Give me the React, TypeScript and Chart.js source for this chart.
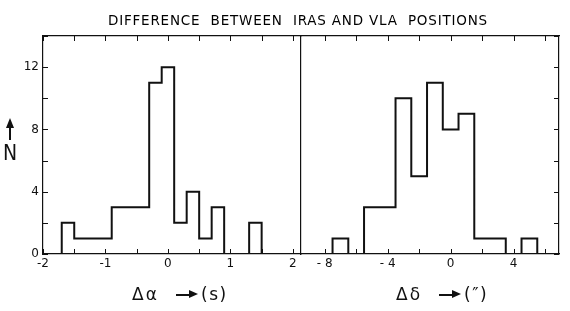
import React, { useEffect, useRef } from "react";
import { Chart, registerables } from "chart.js";

Chart.register(...registerables);

// ---- data ----
const TITLE = "DIFFERENCE  BETWEEN  IRAS AND VLA  POSITIONS";

// Right ascension difference (s): bin edges and counts
const raBinEdges = [-1.7, -1.5, -1.3, -1.1, -0.9, -0.7, -0.5, -0.3, -0.1, 0.1, 0.3, 0.5, 0.7, 0.9, 1.1, 1.3, 1.5];
const raCounts = [2, 1, 1, 1, 3, 3, 3, 11, 12, 2, 4, 1, 3, 0, 0, 2];

// Declination difference ("): bin edges and counts
const decBinEdges = [-7.5, -6.5, -5.5, -4.5, -3.5, -2.5, -1.5, -0.5, 0.5, 1.5, 2.5, 3.5, 4.5, 5.5];
const decCounts = [1, 0, 3, 3, 10, 5, 11, 8, 9, 1, 1, 0, 1];

// tick labels
const raLabelTicks = [-2, -1, 0, 1, 2];
const raLabelTexts = ["-2", "-1", "0", "1", "2"];
const decLabelTicks = [-8, -4, 0, 4];
const decLabelTexts = ["- 8", "- 4", "0", "4"];
const nLabelTicks = [0, 4, 8, 12];
const nLabelTexts = ["0", "4", "8", "12"];

const RA_RANGE = [-2, 2.13];
const DEC_RANGE = [-9.44, 6.88];
const N_RANGE = [0, 14];

const FONT = "'DejaVu Sans', 'Liberation Sans', sans-serif";
const INK = "#111111";

function histPoints(edges: number[], counts: number[]) {
  const pts: { x: number; y: number }[] = [{ x: edges[0], y: 0 }];
  counts.forEach((c, i) => pts.push({ x: edges[i], y: c }));
  pts.push({ x: edges[edges.length - 1], y: 0 });
  return pts;
}

function labelFrom(values: number[], texts: string[]) {
  return (v: any) => {
    const i = values.findIndex((t) => Math.abs(t - Number(v)) < 1e-6);
    return i >= 0 ? texts[i] : "";
  };
}

// draws the short tick marks pointing into the plot frame
const innerTickPlugin = {
  id: "innerTicks",
  afterDraw(chart: any, _args: any, opts: any) {
    const { ctx, chartArea: a } = chart;
    const len = opts.length || 5;
    const ids: string[] = opts.scales || [];
    ctx.save();
    ctx.strokeStyle = INK;
    ctx.lineWidth = 1;
    ids.forEach((id) => {
      const s = chart.scales[id];
      if (!s) return;
      s.ticks.forEach((t: any) => {
        const p = Math.round(s.getPixelForValue(t.value)) + 0.5;
        ctx.beginPath();
        if (s.position === "bottom") {
          ctx.moveTo(p, a.bottom);
          ctx.lineTo(p, a.bottom - len);
        } else if (s.position === "top") {
          ctx.moveTo(p, a.top);
          ctx.lineTo(p, a.top + len);
        } else if (s.position === "left") {
          ctx.moveTo(a.left, p);
          ctx.lineTo(a.left + len, p);
        } else {
          ctx.moveTo(a.right, p);
          ctx.lineTo(a.right - len, p);
        }
        ctx.stroke();
      });
    });
    ctx.restore();
  },
};

const tickFont = { family: FONT, size: 12 };
const noGrid = { display: false, drawTicks: false };
const frame = { display: true, color: INK, width: 1.2 };

function histDataset(edges: number[], counts: number[]) {
  return {
    data: histPoints(edges, counts),
    stepped: true,
    borderColor: INK,
    borderWidth: 2,
    pointRadius: 0,
    fill: false,
    xAxisID: "x",
    yAxisID: "y",
  };
}

function basePlugins(scaleIds: string[]) {
  return {
    legend: { display: false },
    tooltip: { enabled: false },
    title: { display: false },
    innerTicks: { length: 5, scales: scaleIds },
  };
}

function xAxis(range: number[], step: number, labels: number[], texts: string[]) {
  return {
    type: "linear",
    position: "bottom",
    min: range[0],
    max: range[1],
    grid: noGrid,
    border: frame,
    ticks: {
      stepSize: step,
      includeBounds: false,
      autoSkip: false,
      maxRotation: 0,
      minRotation: 0,
      padding: 3,
      font: tickFont,
      color: INK,
      callback: labelFrom(labels, texts),
    },
    afterFit: (s: any) => {
      s.height = 57;
    },
  };
}

function xTopAxis(range: number[], step: number) {
  return {
    type: "linear",
    position: "top",
    min: range[0],
    max: range[1],
    grid: noGrid,
    border: frame,
    ticks: { stepSize: step, includeBounds: false, autoSkip: false, maxRotation: 0, callback: () => "" },
    afterFit: (s: any) => {
      s.height = 36;
    },
  };
}

function leftConfig(): any {
  return {
    type: "line",
    data: { datasets: [histDataset(raBinEdges, raCounts)] },
    plugins: [innerTickPlugin],
    options: {
      responsive: false,
      animation: false,
      events: [],
      layout: { padding: 0 },
      plugins: basePlugins(["x", "xTop", "y"]),
      scales: {
        x: xAxis(RA_RANGE, 0.5, raLabelTicks, raLabelTexts),
        xTop: xTopAxis(RA_RANGE, 0.5),
        y: {
          type: "linear",
          position: "left",
          min: N_RANGE[0],
          max: N_RANGE[1],
          grid: noGrid,
          border: frame,
          ticks: {
            stepSize: 2,
            includeBounds: false,
            autoSkip: false,
            padding: 4,
            font: tickFont,
            color: INK,
            callback: labelFrom(nLabelTicks, nLabelTexts),
          },
          afterFit: (s: any) => {
            s.width = 43;
          },
        },
        yRight: {
          type: "linear",
          position: "right",
          min: N_RANGE[0],
          max: N_RANGE[1],
          grid: noGrid,
          border: frame,
          ticks: { display: false },
          afterFit: (s: any) => {
            s.width = 1;
          },
        },
      },
    },
  };
}

function rightConfig(): any {
  return {
    type: "line",
    data: { datasets: [histDataset(decBinEdges, decCounts)] },
    plugins: [innerTickPlugin],
    options: {
      responsive: false,
      animation: false,
      events: [],
      layout: { padding: { left: 1, right: 0, top: 0, bottom: 0 } },
      plugins: basePlugins(["x", "xTop", "y"]),
      scales: {
        x: xAxis(DEC_RANGE, 2, decLabelTicks, decLabelTexts),
        xTop: xTopAxis(DEC_RANGE, 2),
        y: {
          type: "linear",
          position: "right",
          min: N_RANGE[0],
          max: N_RANGE[1],
          grid: noGrid,
          border: frame,
          ticks: { stepSize: 2, includeBounds: false, autoSkip: false, callback: () => "" },
          afterFit: (s: any) => {
            s.width = 11;
          },
        },
      },
    },
  };
}

function HArrow({ left, top }: { left: number; top: number }) {
  return (
    <span style={{ position: "absolute", left, top, width: 22, height: 9 }}>
      <span style={{ position: "absolute", left: 0, top: 4, width: 14, height: 1.6, background: INK }} />
      <span
        style={{
          position: "absolute",
          right: 0,
          top: 0,
          width: 0,
          height: 0,
          borderTop: "4.5px solid transparent",
          borderBottom: "4.5px solid transparent",
          borderLeft: "9px solid " + INK,
        }}
      />
    </span>
  );
}

function VArrow({ left, top }: { left: number; top: number }) {
  return (
    <span style={{ position: "absolute", left, top, width: 8, height: 22 }}>
      <span style={{ position: "absolute", left: 3.2, top: 8, width: 1.6, height: 14, background: INK }} />
      <span
        style={{
          position: "absolute",
          left: 0,
          top: 0,
          width: 0,
          height: 0,
          borderLeft: "4px solid transparent",
          borderRight: "4px solid transparent",
          borderBottom: "10px solid " + INK,
        }}
      />
    </span>
  );
}

const textStyle = (left: number, top: number, size: number, extra: any = {}) => ({
  position: "absolute" as const,
  left,
  top,
  fontSize: size,
  lineHeight: "20px",
  whiteSpace: "pre" as const,
  ...extra,
});

export default function App() {
  const leftRef = useRef<HTMLCanvasElement | null>(null);
  const rightRef = useRef<HTMLCanvasElement | null>(null);

  useEffect(() => {
    const a = new Chart(leftRef.current as HTMLCanvasElement, leftConfig());
    const b = new Chart(rightRef.current as HTMLCanvasElement, rightConfig());
    return () => {
      a.destroy();
      b.destroy();
    };
  }, []);

  return (
    <div
      style={{
        position: "fixed",
        left: 0,
        top: 0,
        width: 570,
        height: 311,
        background: "#ffffff",
        overflow: "hidden",
        color: INK,
        fontFamily: FONT,
      }}
    >
      <canvas
        ref={leftRef}
        width={302}
        height={311}
        style={{ position: "absolute", left: 0, top: 0, width: 302, height: 311, display: "block" }}
      />
      <canvas
        ref={rightRef}
        width={269}
        height={311}
        style={{ position: "absolute", left: 301, top: 0, width: 269, height: 311, display: "block" }}
      />
      <div
        style={{
          position: "absolute",
          left: 108,
          top: 12,
          fontSize: 13.5,
          lineHeight: "16px",
          letterSpacing: "0.8px",
          whiteSpace: "pre",
          color: "#000",
        }}
      >
        {TITLE}
      </div>

      <div style={textStyle(132, 284, 17, { letterSpacing: "2px" })}>Δα</div>
      <HArrow left={176} top={290} />
      <div style={textStyle(201, 284, 17, { letterSpacing: "1.5px" })}>(s)</div>

      <div style={textStyle(396, 284, 17, { letterSpacing: "2px" })}>Δδ</div>
      <HArrow left={439} top={290} />
      <div style={textStyle(464, 284, 17, { letterSpacing: "1.5px" })}>(″)</div>

      <VArrow left={6} top={118} />
      <div
        style={{
          position: "absolute",
          left: 0,
          top: 141,
          width: 20,
          textAlign: "center",
          fontSize: 21,
          lineHeight: "24px",
          fontFamily: "'DejaVu Sans Condensed', " + FONT,
        }}
      >
        N
      </div>
    </div>
  );
}
